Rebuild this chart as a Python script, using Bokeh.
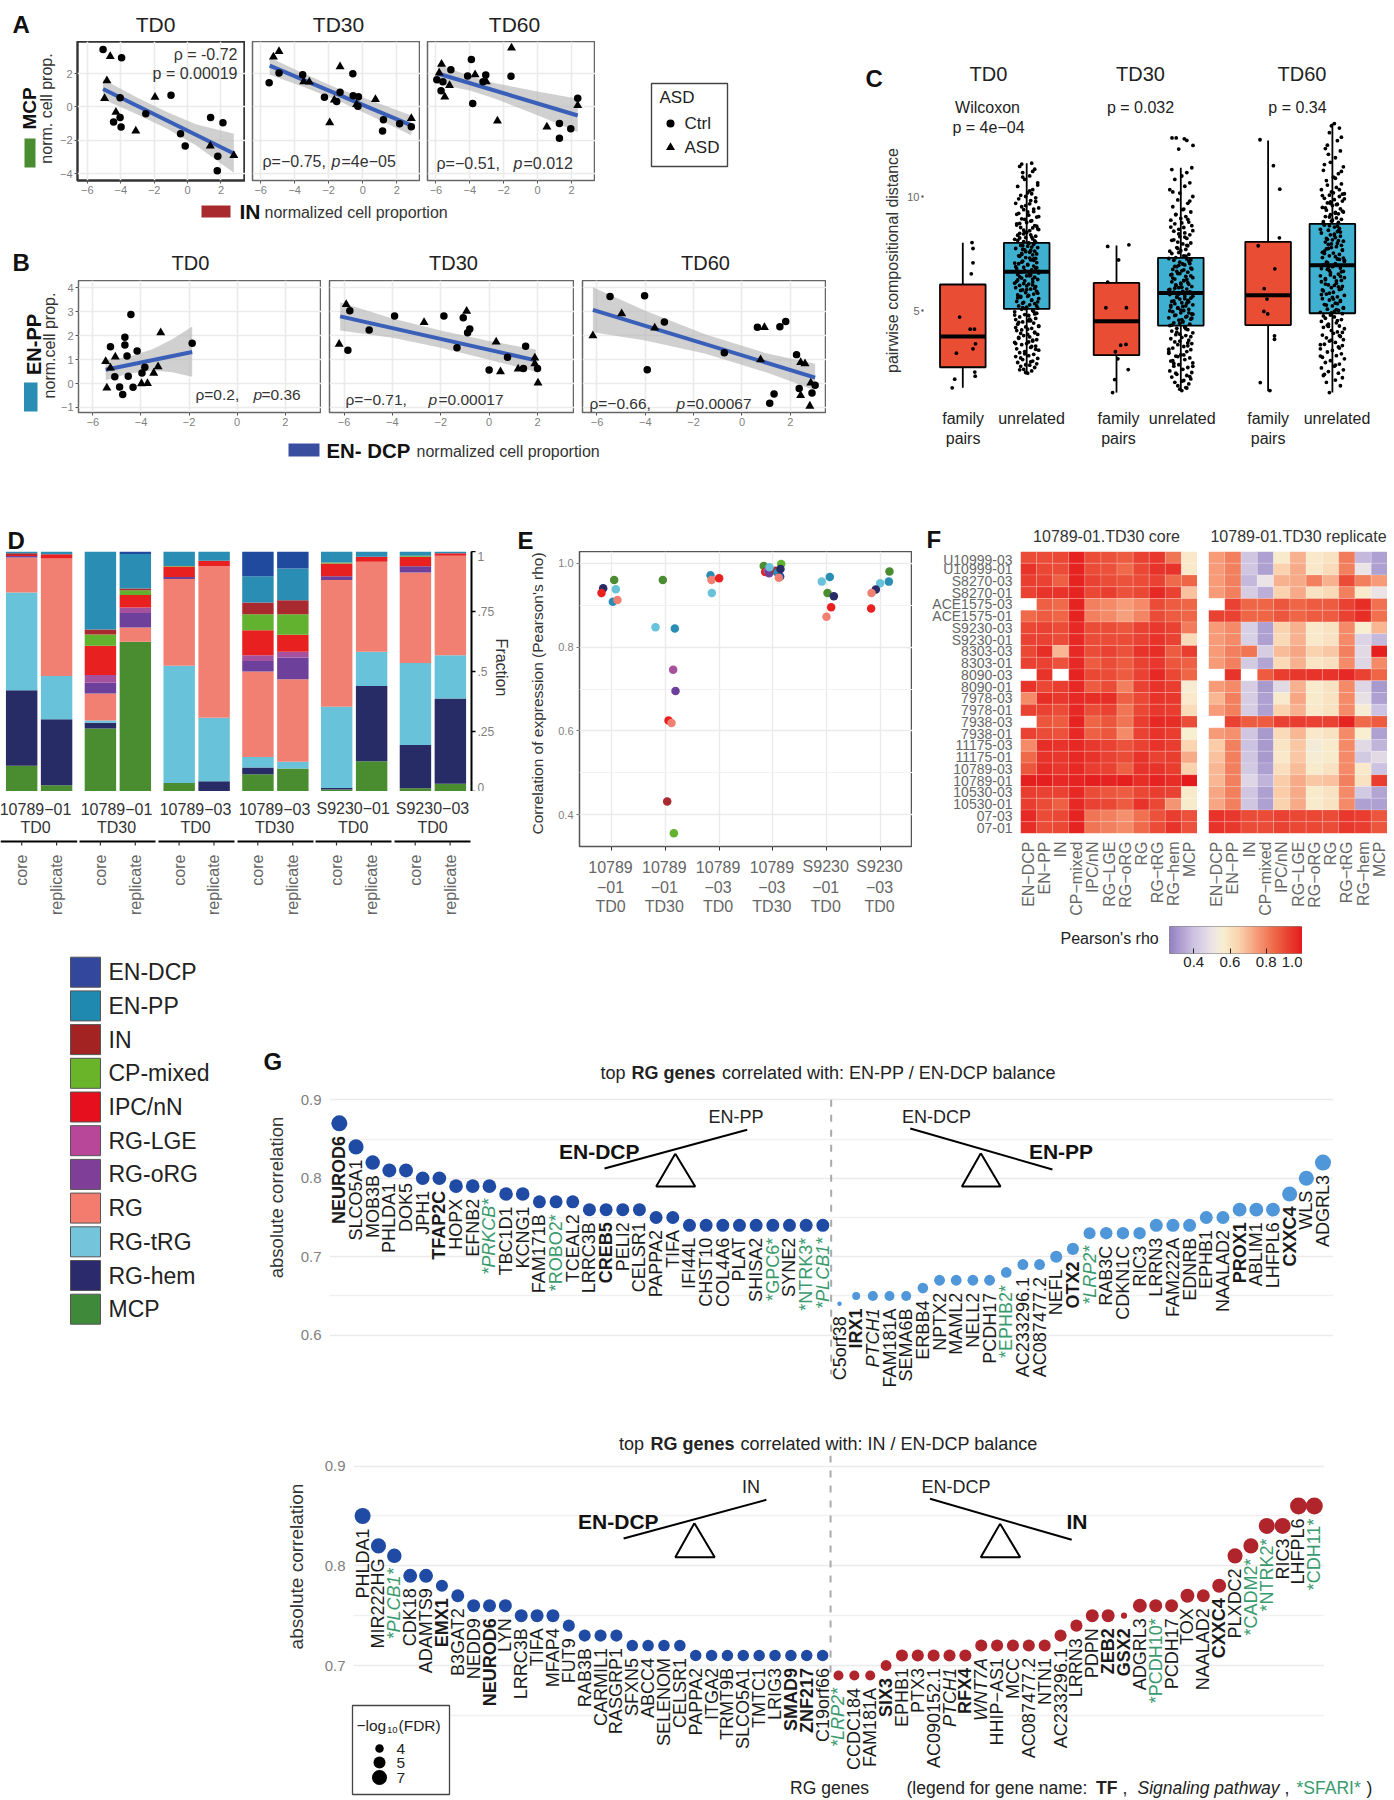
from bokeh.plotting import figure
from bokeh.models import Range1d, FactorRange, FixedTicker, ColumnDataSource, Column, LinearColorMapper
from bokeh.transform import transform
from bokeh.core.properties import value
from bokeh.embed import file_html
from bokeh.resources import INLINE
import numpy as np
import math

FONT = "Liberation Sans"
nan = float("nan")

# ---------- Panel A ----------
A0_CX = [-5.06,-3.95,-4.04,-0.99,-4.43,-4.04,-3.98,-2.5,-0.42,-0.14,1.38,2.12,1.81,1.78]
A0_CY = [3.44,2.94,0.54,0.7,-0.91,-0.64,-1.21,-0.42,-1.61,-2.35,-0.64,-0.95,-2.96,-3.84]
A0_TX = [-4.63,-4.83,-4.97,-4.29,-1.95,-3.1,1.36,2.77]
A0_TY = [3.02,1.57,0.5,-0.32,0.58,-1.45,-2.35,-2.92]
A0_FX = [-5.06,2.77]; A0_FY = [1.07,-2.8]
A0_BX = [-5.06,-3,-1.2,0.5,2.77]; A0_BU = [1.66,0.55,-0.33,-1.05,-1.62]; A0_BL = [0.45,-0.46,-1.33,-2.3,-3.95]

A1_CX = [-5.5,-4.92,-3.53,-2.25,-1.53,-1.33,-0.58,-0.56,-0.25,-0.28,1.22,1.17,2.17,2.86]
A1_CY = [1.45,2.03,1.93,0.58,0.32,0.87,1.99,0.66,0.6,0.04,-0.78,-1.45,-1.01,-1.19]
A1_TX = [-5.25,-4.92,-3.47,-3.14,-1.33,-1.94,-1.67,0.75,-0.36,2.86]
A1_TY = [3.0,3.32,1.51,1.49,2.41,-0.95,0.42,0.44,0.14,-0.7]
A1_FX = [-5.47,2.86]; A1_FY = [2.47,-1.11]
A1_BX = [-5.47,-3.5,-1.5,0.5,2.86]; A1_BU = [2.96,2.02,1.12,0.38,-0.52]; A1_BL = [1.93,1.2,0.4,-0.55,-1.71]

A2_CX = [-5.95,-5.59,-5.7,-5.12,-3.91,-4.13,-3.83,-3.06,-3.22,-1.57,1.29,1.29,1.96,2.37]
A2_CY = [1.63,1.51,0.97,2.23,2.84,1.85,0.2,1.91,1.51,1.83,-1.0,-1.89,-1.31,0.52]
A2_TX = [-5.67,-5.81,-5.2,-5.48,-3.69,-3.03,-2.37,-1.54,0.55,2.37]
A2_TY = [2.56,2.03,1.29,0.6,1.93,1.51,-0.85,3.54,-1.21,0.08]
A2_FX = [-5.9,2.37]; A2_FY = [2.0,-0.52]
A2_BX = [-5.9,-4,-2.5,0,2.37]; A2_BU = [2.56,1.85,1.42,0.92,0.48]; A2_BL = [1.37,0.98,0.48,-0.5,-1.51]

# ---------- Panel B ----------
B0_CX = [-4.42,-4.67,-4.67,-5.27,-4.16,-4.58,-1.87,-3.84,-3.96,-4.53,-5.09,-4.89,-4.33,-4.76]
B0_CY = [2.89,1.94,1.61,1.54,1.36,1.15,1.69,0.68,0.44,0.31,0.28,-0.14,-0.15,-0.46]
B0_TX = [-5.47,-5.07,-5.27,-3.18,-3.29,-3.47,-3.98,-3.73,-5.42]
B0_TY = [0.93,1.11,0.65,2.13,0.71,0.44,0.0,0.01,-0.18]
B0_FX = [-5.47,-1.87]; B0_FY = [0.58,1.32]
B0_BX = [-5.47,-4.5,-3.5,-2.7,-1.87]; B0_BU = [0.97,1.12,1.45,1.85,2.39]; B0_BL = [0.14,0.42,0.55,0.47,0.28]

B1_CX = [-5.76,-5.84,-4.96,-3.91,-1.87,-1.07,-0.89,-0.8,-1.33,0.0,0.76,1.51,2.0,1.42]
B1_CY = [3.04,1.39,2.24,2.83,2.83,2.75,2.13,2.28,1.5,0.57,1.1,1.56,0.63,0.63]
B1_TX = [-5.91,-6.2,-2.69,-0.93,0.29,0.47,1.2,1.89,1.89,2.02]
B1_TY = [3.31,1.65,2.56,3.03,1.74,0.5,0.61,1.07,0.83,0.03]
B1_FX = [-6.16,1.93]; B1_FY = [2.81,0.97]
B1_BX = [-6.16,-4,-2,0,1.93]; B1_BU = [3.4,2.72,2.22,1.78,1.42]; B1_BL = [2.22,1.92,1.5,1.0,0.49]

B2_CX = [-5.46,-4.03,-3.21,-3.92,-0.73,0.64,1.57,1.81,2.26,2.37,1.33,1.15,2.9,3.03]
B2_CY = [3.64,3.67,2.57,0.58,1.29,2.35,2.38,2.6,1.21,-0.21,-0.44,-0.82,-0.39,-0.07]
B2_TX = [-6.17,-4.98,-3.61,0.93,0.77,2.43,2.61,2.43,2.85,2.81]
B2_TY = [2.0,2.92,2.33,2.35,1.0,0.88,0.83,-0.5,0.03,-0.94]
B2_FX = [-6.17,3.03]; B2_FY = [3.08,0.25]
B2_BX = [-6.17,-4,-1.5,1,3.03]; B2_BU = [4.03,3.05,2.05,1.27,0.83]; B2_BL = [2.15,1.8,1.25,0.47,-0.28]

# ---------- Panel C ----------
C_Q1 = [2.51,5.07,3.04,4.34,4.36,4.88]
C_MED = [3.86,6.7,4.53,5.77,5.67,6.99]
C_Q3 = [6.14,7.97,6.21,7.31,8.01,8.8]
C_LO = [1.61,2.25,1.4,1.49,1.46,1.4]
C_HI = [7.97,11.46,7.85,11.26,12.46,13.2]
F0_O = [9.2,10.2,10.2,8.5,-3.2,7.4,11.7,12.7,10.2,-6.4,12,12.4,-8.1,-10.6]
F0_V = [7.98,7.72,7.09,6.61,4.71,4.18,4.18,3.54,3.32,3.13,2.3,2.12,1.99,1.61]
F1_O = [-8.8,12.4,2.1,-8.8,-10.6,9.9,4.2,9.5,-1.1,1.4,11.7,-1.8,-3.9]
F1_V = [7.81,7.88,7.22,6.24,5.12,5.12,3.48,3.51,3.19,2.88,2.41,1.97,1.4]
F2_O = [-8.1,5.3,11.7,11.3,-9.9,6.7,-3.9,-1.1,-4.2,-0.4,6.4,6.4,-7.8,1.8]
F2_V = [12.49,11.35,10.32,8.19,7.84,6.83,5.96,5.5,4.96,4.85,3.89,3.74,1.84,1.49]
U_JIT = [1,-1,5,-3,8,-6,3,10,-9,6,-4,11,-11,2,7,-7,-2,12,-10,4,9,-5,0,-12,6,10,-8,3,-3,11,-6,8,-10,1,5,-1,12,-9,7,-4,
 4,-11,9,-7,2,-2,10,-12,6,-5,11,0,-8,3,8,-3,-10,5,12,-6,1,-9,7,-1,10,-4,4,-11,9,-7,2,-12,6,-2,11,-5,8,0,-9,3,
 -6,12,5,-10,-3,7,1,-8,10,-4,4,9,-1,-7,6,-5,3,8,-2,-11,5,-4,7,2,-3,-9,6,-1,9,4,-7,-2,3,11,-6,8,-10,0,5,-5,
 10,2,-8,7,-3,12,-1,-11,4,9,-6,1,6,-9,11,-2,3,-4,8,-7,-5,5,9,-3,7,-1,2,10,3,6]
U_JIT2 = [-7,4,-2,9,-11,6,1,-5,12,-8,3,-12,7,-1,10,-4,5,-9,2,11,-6,8,0,-3,-10,6,-7,4,12,-2,9,-11,1,-5,7,3,-8,10,-1,-4,
 11,-6,2,8,-12,5,-9,0,-3,6,10,-7,4,-2,12,-10,1,7,-5,3,9,-8,-1,5,-11,2,8,-4,11,-6,0,6,-9,3,-2,10,-12,7,-5,4,
 1,9,-7,-3,12,-10,5,2,-8,8,-1,-6,3,11,-4,6,-11,0,9,-2,7,-9,4,-5,10,-3,1,-12,8,5,-7,2,-1,6,-10,3,11,-8,9,-4]
U0_V = [2.25,2.28,2.35,2.42,2.5,2.55,2.6,2.66,2.72,2.78,2.85,2.9,2.98,3.02,3.08,3.15,3.2,3.26,3.32,3.38,3.44,3.5,3.55,3.6,3.66,3.72,3.78,3.84,3.9,3.95,4.0,4.05,4.12,4.18,4.22,4.28,4.33,4.4,4.45,4.5,
 4.55,4.6,4.65,4.72,4.78,4.82,4.88,4.94,5.0,5.05,5.1,5.15,5.2,5.25,5.3,5.36,5.4,5.46,5.52,5.58,5.62,5.68,5.72,5.78,5.84,5.9,5.94,6.0,6.05,6.1,6.16,6.2,6.25,6.3,6.36,6.42,6.46,6.52,6.58,6.62,
 6.68,6.72,6.78,6.84,6.9,6.95,7.0,7.05,7.1,7.16,7.22,7.28,7.32,7.38,7.44,7.5,7.55,7.6,7.66,7.72,7.78,7.84,7.9,7.96,8.02,8.08,8.14,8.2,8.26,8.32,8.38,8.44,8.5,8.58,8.64,8.72,8.8,8.86,8.94,9.02,
 9.1,9.18,9.26,9.34,9.42,9.5,9.6,9.7,9.82,9.94,10.05,10.16,10.3,10.44,10.6,10.75,10.9,11.05,11.2,11.32,11.42,11.46]
U0_W = [2.4,2.75,3.1,3.3,3.55,3.7,3.95,4.15,4.3,4.48,4.62,4.8,4.96,5.08,5.2,5.32,5.44,5.55,5.66,5.76,5.88,5.97,6.08,6.18,6.28,6.38,6.48,6.56,6.65,6.75,6.85,6.92,7.02,7.12,7.2,7.3,7.4,7.48,7.58,7.68,
 7.76,7.86,7.95,8.05,8.12,8.22,8.3,8.42,8.52,8.62,8.7,8.82,8.92,9.0,9.12,9.22,9.32,9.45,9.55,9.68,9.78,9.9,10.0,10.12,4.25,4.55,4.85,5.12,5.38,5.62,5.92,6.12,6.34,6.52,6.72,6.88,7.08,7.26,7.46,7.64,7.82,8.0,8.18,8.36,8.55,8.75,3.42,3.62,3.82,4.02,2.62,2.92,10.25,10.5,10.85,11.1]
U1_V = [1.49,1.55,1.62,1.7,1.78,1.85,1.93,2.0,2.08,2.15,2.2,2.28,2.35,2.42,2.5,2.56,2.62,2.7,2.78,2.85,2.92,3.0,3.06,3.12,3.2,3.28,3.35,3.42,3.5,3.55,3.62,3.7,3.76,3.82,3.9,3.96,4.02,4.1,4.16,4.22,
 4.28,4.34,4.4,4.46,4.52,4.58,4.62,4.68,4.74,4.8,4.85,4.9,4.95,5.0,5.05,5.1,5.15,5.2,5.25,5.3,5.34,5.4,5.44,5.5,5.54,5.6,5.64,5.7,5.75,5.8,5.84,5.9,5.94,6.0,6.05,6.1,6.15,6.2,6.26,6.32,
 6.38,6.44,6.5,6.56,6.62,6.68,6.74,6.8,6.86,6.92,7.0,7.06,7.12,7.2,7.26,7.32,7.4,7.46,7.54,7.6,7.68,7.76,7.84,7.92,8.0,8.08,8.16,8.24,8.32,8.4,8.48,8.56,8.64,8.72,8.8,8.88,8.96,9.04,9.12,9.22,
 9.32,9.42,9.55,9.7,9.85,10.0,10.15,10.3,10.45,10.6,10.75,10.9,11.05,11.18,11.26,12.57,12.57,12.53,12.46,12.08,12.24]
U1_EXTRA_O = [-8.8,-4.6,3.5,6,-2.1,12.2]
U1_W = [1.6,1.9,2.25,2.55,2.8,3.05,3.3,3.45,3.66,3.85,4.05,4.2,4.36,4.5,4.66,4.78,4.9,5.02,5.12,5.22,5.32,5.42,5.52,5.62,5.72,5.82,5.92,6.02,6.12,6.22,6.3,6.42,6.52,6.62,6.72,6.82,6.94,7.04,7.16,7.28,
 7.38,7.5,7.62,7.72,7.86,7.96,8.1,8.22,8.36,8.5,8.66,8.84,9.0,9.2,9.45,9.8,10.2,4.44,4.72,4.98,5.18,5.38,5.58,5.78,5.98,6.16,6.36,6.58,6.78,6.98,7.22,3.18,3.58,3.94,4.28,4.6,2.1,2.68,2.98,4.84]
U2_V = [1.4,1.7,1.85,1.95,2.05,2.15,2.25,2.32,2.4,2.48,2.56,2.65,2.72,2.8,2.88,2.95,3.02,3.1,3.18,3.25,3.32,3.4,3.46,3.52,3.6,3.66,3.72,3.8,3.86,3.92,4.0,4.06,4.12,4.2,4.26,4.32,4.4,4.46,4.52,4.6,
 4.66,4.72,4.8,4.86,4.92,5.0,5.06,5.12,5.2,5.26,5.32,5.4,5.46,5.52,5.6,5.66,5.72,5.8,5.86,5.92,6.0,6.06,6.12,6.2,6.26,6.32,6.4,6.46,6.52,6.6,6.66,6.72,6.8,6.86,6.92,7.0,7.06,7.12,7.2,7.26,
 7.32,7.4,7.46,7.52,7.6,7.66,7.72,7.8,7.86,7.92,8.0,8.06,8.12,8.2,8.26,8.32,8.4,8.46,8.52,8.6,8.66,8.72,8.8,8.86,8.92,9.0,9.06,9.12,9.2,9.26,9.32,9.4,9.46,9.52,9.6,9.66,9.72,9.8,9.86,9.92,
 10.0,10.06,10.12,10.2,10.3,10.4,10.55,10.7,10.85,11.0,11.15,11.3,11.5,11.7,11.85,12.0,12.1,12.25,12.45,12.6,12.8,13.0,13.1,13.2]
U2_W = [2.2,2.6,3.0,3.35,3.7,4.04,4.3,4.56,4.76,4.96,5.1,5.24,5.44,5.58,5.76,5.9,6.04,6.16,6.3,6.44,6.56,6.7,6.84,6.96,7.1,7.24,7.36,7.5,7.64,7.76,7.9,8.04,8.16,8.3,8.44,8.56,8.7,8.84,8.96,9.1,
 9.24,9.36,9.5,9.64,9.76,9.9,10.04,10.16,10.3,10.5,10.8,11.1,11.4,4.9,5.3,5.7,6.1,6.5,6.9,7.3,7.7,8.1,8.5,8.9,9.3,9.7,10.1,3.5,3.9,4.35,5.04,5.5,5.95,6.35,6.75,7.15,7.55,7.95,8.35,8.75]

# ---------- Panel D ----------
CELLTYPES_BOTTOM_UP = ["MCP","RG-hem","RG-tRG","RG","RG-oRG","RG-LGE","IPC/nN","CP-mixed","IN","EN-PP","EN-DCP"]
D_MCP = [.107,.026,.2625,.624,.035,0,.072,.096,.008,.126,.014,.032]
D_HEM = [.315,.275,.0235,0,0,.043,.028,0,.007,.314,.18,.3555]
D_TRG = [.407,.18,.01,0,.489,.264,.044,.028,.338,.142,.341,.1805]
D_RG = [.146,.49,.112,.059,.361,.632,.356,.344,.528,.375,.3775,.414]
D_ORG = [.006,0,.045,.061,.009,0,.044,.09,.016,0,.0265,0]
D_LGE = [0,0,.032,.023,0,0,.024,.024,0,0,0,0]
D_IPC = [.004,.018,.122,.052,.0435,.022,.104,.071,.053,.021,.039,.011]
D_CP = [0,0,.047,.02,.002,0,.067,.086,.004,0,.004,0]
D_IN = [.008,0,.021,.007,0,0,.0485,.058,0,0,0,0]
D_PP = [.007,.011,.325,.144,.0605,.039,.1095,.132,.046,.022,.018,.007]
D_DCP = [0,0,0,.01,0,0,.103,.071,0,0,0,0]
D_GROUP1 = ["10789−01","10789−01","10789−03","10789−03","S9230−01","S9230−03"]
D_GROUP2 = ["TD0","TD30","TD0","TD30","TD0","TD0"]
COLORS = {"EN-DCP":"#1f4a9e","EN-PP":"#2a8db3","IN":"#a82a2e","CP-mixed":"#62b22f","IPC/nN":"#e92020",
          "RG-LGE":"#a6519e","RG-oRG":"#6d409c","RG":"#f18073","RG-tRG":"#68c3da","RG-hem":"#272b66","MCP":"#4a8c30"}
LEGEND_COLORS = {"EN-DCP":"#33489c","EN-PP":"#2089b0","IN":"#a32222","CP-mixed":"#6ab42a","IPC/nN":"#e60f1e",
          "RG-LGE":"#b8479a","RG-oRG":"#7f3f98","RG":"#f47c6e","RG-tRG":"#74c5dc","RG-hem":"#2a2a6c","MCP":"#3f8a3a"}

# ---------- Panel E ----------
E_CT = ["MCP","RG-hem","IPC/nN","RG-tRG","EN-PP","RG",
        "MCP","RG-tRG","EN-PP","RG-LGE","RG-oRG","IPC/nN","RG","IN","CP-mixed",
        "EN-PP","RG","IPC/nN","RG-tRG",
        "MCP","CP-mixed","IPC/nN","RG-LGE","RG-oRG","IN","EN-PP","EN-DCP","RG-hem","RG","RG-tRG",
        "RG-tRG","EN-PP","MCP","RG-hem","IPC/nN","RG",
        "MCP","EN-PP","RG-tRG","RG-hem","RG","IPC/nN"]
E_X = [1.05,.845,.814,1.08,1.025,1.11, 1.954,1.818,2.177,2.146,2.19,2.06,2.115,2.035,2.159, 2.84,2.859,3.0,2.865,
       3.83,4.154,3.857,3.9,3.93,4.05,4.085,4.135,4.141,4.11,3.937, 4.909,5.058,5.015,5.133,5.083,4.996, 6.167,6.155,5.994,5.913,5.833,5.826]
E_Y = [.96,.94,.929,.938,.908,.912, .96,.847,.844,.746,.695,.625,.619,.432,.356, .971,.96,.964,.929,
       .993,.998,.979,.982,.976,.982,.977,.968,.986,.965,.99, .956,.967,.929,.921,.895,.872, .98,.956,.952,.937,.929,.892]
E_GROUP = [["10789","−01","TD0"],["10789","−01","TD30"],["10789","−03","TD0"],["10789","−03","TD30"],["S9230","−01","TD0"],["S9230","−03","TD0"]]

# ---------- Panel F ----------
F_ROWS = ["U10999-03","U10999-01","S8270-03","S8270-01","ACE1575-03","ACE1575-01","S9230-03","S9230-01","8303-03","8303-01","8090-03","8090-01",
          "7978-03","7978-01","7938-03","7938-01","11175-03","11175-01","10789-03","10789-01","10530-03","10530-01","07-03","07-01"]
F_COLS = ["EN−DCP","EN−PP","IN","CP−mixed","IPC/nN","RG−LGE","RG−oRG","RG","RG−tRG","RG−hem","MCP"]
F_CORE = [
 [.90,.90,.91,.98,.90,.89,.87,.92,.94,.82,.58],[.95,.91,.90,.98,.90,.89,.84,.91,.95,.95,.58],[.93,.92,.86,.98,.92,.90,.89,.90,.92,.84,.85],
 [.92,.95,.95,.98,.91,.93,.89,.91,.97,.92,.68],[nan,.86,.84,.98,.80,.78,.75,.78,.90,.87,.85],[.84,.87,.85,.98,.80,.78,.74,.79,.90,.87,.85],
 [.91,.92,.90,.97,.90,.90,.88,.92,.94,.92,.81],[.92,.92,.90,.97,.90,.90,.90,.92,.95,.92,.62],[.91,.96,.70,.97,.90,.92,.89,.95,.96,.87,.93],
 [.92,.92,.89,.97,.87,.90,.87,.92,.94,.88,.86],[nan,.95,nan,.98,.91,.90,.87,.92,.97,.91,.85],[.95,.91,.93,.97,.87,.90,.80,.92,.95,.93,.55],
 [.78,.96,.94,.97,.96,.96,.86,.91,.95,.94,.58],[.92,.92,.90,.97,.90,.92,.82,.91,.94,.93,.62],[nan,.88,.87,.98,.85,.88,.82,.93,.97,.96,.90],
 [.92,.90,.89,.97,.86,.88,.78,.92,.95,.93,.56],[.78,.96,.95,.97,.94,.92,.89,.92,.95,.93,.64],[.84,.95,.94,.97,.95,.92,.90,.95,.92,.93,.72],
 [.88,.96,.94,.97,.93,.92,.86,.95,.95,.93,.65],[.99,.99,.97,.98,.99,.98,.99,.96,.98,.96,1.0],[.93,.92,.92,.97,.90,.88,.87,.91,.93,.92,.57],
 [.93,.90,.86,.97,.92,.91,.87,.95,.91,.76,.57],[.97,.90,.91,.98,.82,.80,.77,.83,.89,.93,.89],[.96,.90,.91,.98,.82,.80,.78,.84,.90,.95,.89]]
F_REPL = [
 [.75,.80,.41,.33,.57,.71,.58,.60,.81,.38,.33],[.75,.80,.41,.33,.65,.72,.58,.62,.80,.50,.33],[.75,.80,.38,.50,.71,.72,.80,.71,.90,.80,.75],
 [.75,.80,.43,.36,.65,.72,.60,.63,.80,.57,.50],[nan,.92,.85,.85,.88,.85,.87,.87,.92,.96,.83],[.92,.92,.85,.85,.88,.85,.87,.87,.92,.96,.83],
 [.75,.78,.44,.33,.65,.71,.58,.60,.78,.56,.70],[.75,.78,.44,.33,.63,.71,.58,.60,.78,.45,.38],[.75,.80,.82,.43,.69,.73,.65,.67,.80,.47,.99],
 [.75,.80,.42,.34,.63,.71,.59,.61,.78,.46,.78],[nan,.95,nan,.87,.93,.94,.95,.95,.97,.92,.85],[.75,.78,.43,.32,.47,.71,.57,.60,.78,.46,.32],
 [.70,.80,.43,.33,.57,.73,.57,.60,.78,.49,.33],[.75,.80,.43,.33,.65,.71,.58,.60,.78,.55,.40],[nan,.92,.87,.87,.92,.93,.92,.92,.98,.84,.87],
 [.75,.77,.41,.32,.62,.70,.58,.60,.78,.56,.33],[.66,.80,.40,.32,.59,.67,.54,.57,.78,.47,.37],[.68,.80,.41,.32,.58,.67,.55,.57,.78,.42,.47],
 [.70,.80,.42,.33,.61,.69,.57,.60,.78,.58,.40],[.70,.80,.46,.37,.66,.72,.67,.68,.80,.60,.93],[.73,.80,.41,.33,.66,.72,.57,.60,.78,.42,.34],
 [.73,.80,.41,.33,.65,.72,.57,.60,.78,.33,.33],[.95,.94,.90,.90,.92,.91,.91,.90,.94,.93,.88],[.95,.94,.90,.90,.92,.91,.91,.90,.94,.93,.88]]

# ---------- Panel G ----------
G1_L = ["NEUROD6","SLCO5A1","MOB3B","PHLDA1","DOK5","JPH1","TFAP2C","HOPX","EFNB2","*PRKCB*","TBC1D1","KCNG1","FAM171B","*ROBO2*","TCEAL2","LRRC3B","CREB5","PELI2","CELSR1","PAPPA2","TIFA","IFI44L","CHST10","COL4A6","PLAT","SHISA2","*GPC6*","SYNE2","*NTRK3*","*PLCB1*"]
G1_LV = [.87,.84,.82,.81,.81,.80,.80,.79,.79,.79,.78,.78,.77,.77,.77,.76,.76,.76,.76,.75,.75,.74,.74,.74,.74,.74,.74,.74,.74,.74]
G1_LF = [7,6.7,6.5,6.3,6.3,6.2,6.2,6.2,6.2,6.2,6.2,6.2,6,6,6,6,6,6,6,6,6,6,6,6,6,6,6,6,6,6]
G1_R = ["C5orf38","IRX1","PTCH1","FAM181A","SEMA6B","ERBB4","NPTX2","MAML2","NELL2","PCDH17","*EPHB2*","AC233296.1","AC087477.2","NEFL","OTX2","*LRP2*","RAB3C","CDKN1C","RIC3","LRRN3","FAM222A","EDNRB","EPHB1","NAALAD2","PROX1","ABLIM1","LHFPL6","CXXC4","WLS","ADGRL3"]
G1_RV = [.64,.65,.65,.65,.65,.66,.67,.67,.67,.67,.68,.69,.69,.70,.71,.73,.73,.73,.73,.74,.74,.74,.75,.75,.76,.76,.76,.78,.80,.82]
G1_RF = [3.2,4.3,5,5,5,5.2,5.3,5.3,5.3,5.3,5.2,5.3,5.3,5.7,5.7,5.7,5.8,5.8,5.8,6,6,6,6,6,6.3,6.3,6.3,6.7,6.7,7]
G2_L = ["PHLDA1","MIR222HG","*PLCB1*","CDK18","ADAMTS9","EMX1","B3GAT2","NEDD9","NEUROD6","LYN","LRRC3B","TIFA","MFAP4","FUT9","RAB3B","CARMIL1","RASGRP1","SFXN5","ABCC4","SELENOM","CELSR1","PAPPA2","ITGA2","TRMT9B","SLCO5A1","TMTC1","LRIG3","SMAD9","ZNF217","C19orf66"]
G2_LV = [.85,.82,.81,.79,.79,.78,.77,.76,.76,.76,.75,.75,.75,.74,.73,.73,.73,.72,.72,.72,.72,.71,.71,.71,.71,.71,.71,.71,.71,.71]
G2_LF = [7,6.7,6.5,6.3,6.3,5.7,6,6,6,6,6,6,6,5.7,5.7,5.7,5.7,5.5,5.5,5.5,5.5,5.5,5.5,5.5,5.5,5.5,5.5,5.5,5.5,5.5]
G2_R = ["*LRP2*","CCDC184","FAM181A","SIX3","EPHB1","PTX3","AC090152.1","PTCH1","RFX4","WNT7A","HHIP−AS1","MCC","AC087477.2","NTN1","AC233296.1","LRRN3","PDPN","ZEB2","GSX2","ADGRL3","*PCDH10*","PCDH17","TOX","NAALAD2","CXXC4","PLXDC2","*CADM2*","*NTRK2*","RIC3","LHFPL6","*CDH11*"]
G2_RV = [.69,.69,.69,.70,.71,.71,.71,.71,.71,.72,.72,.72,.72,.72,.73,.74,.75,.75,.75,.76,.76,.76,.77,.77,.78,.81,.82,.84,.84,.86,.86]
G2_RF = [5,5,5,5.3,5.7,5.7,5.7,5.7,5.7,5.7,5.7,5.7,5.7,5.7,5.7,5.7,6,6,3.7,6.3,6,6,6.3,6,6.3,6.7,6.7,7,7,7.3,7.3]
TF_GENES = {"NEUROD6","TFAP2C","CREB5","IRX1","OTX2","PROX1","CXXC4","EMX1","SMAD9","ZNF217","SIX3","RFX4","ZEB2","GSX2"}
ITALIC_GENES = {"*PRKCB*","*PLCB1*","*LRP2*","PTCH1","WNT7A"}
FDR_LEGEND = [4,5,7]
LEGEND_CT = ["EN-DCP","EN-PP","IN","CP-mixed","IPC/nN","RG-LGE","RG-oRG","RG","RG-tRG","RG-hem","MCP"]

# ---------- helpers ----------
children = []
GRAY = "#7f7f7f"
DARK = "#222222"

def make_fig(L, T, R, B, xr, yr, ml=0, mr=0, mt=0, mb=0, **kw):
    L, T, R, B = round(L), round(T), round(R), round(B)
    p = figure(width=R-L+ml+mr, height=B-T+mt+mb, x_range=xr, y_range=yr, toolbar_location=None,
               output_backend="svg", min_border_left=ml, min_border_right=mr, min_border_top=mt, min_border_bottom=mb,
               background_fill_color=None, border_fill_color=None, outline_line_color=None, **kw)
    p.frame_align = False
    p.styles = {"position": "absolute", "left": f"{L-ml}px", "top": f"{T-mt}px"}
    children.append(p)
    return p

def style_axis(a, size=11, color=GRAY, tick="#555555", tl=3):
    a.major_label_text_font = FONT
    a.major_label_text_font_size = f"{size}px"
    a.major_label_text_color = color
    a.axis_line_color = None
    a.major_tick_line_color = tick
    a.major_tick_out = tl
    a.major_tick_in = 0
    a.minor_tick_line_color = None
    a.major_label_standoff = 2

def minus(v):
    return str(v).replace("-", "−")

def scatter_panel(box_, xlim, ylim, yticks, cx, cy, tx, ty, fx, fy, bx, bl, bu, show_y, oc, ow):
    L, T, R, B = box_
    p = make_fig(L, T, R, B, Range1d(*xlim), Range1d(*ylim), ml=26, mb=22)
    p.background_fill_color = "white"
    xt = [-6,-4,-2,0,2]
    p.xaxis.ticker = FixedTicker(ticks=xt)
    p.xaxis.major_label_overrides = {v: minus(v) for v in xt}
    p.yaxis.ticker = FixedTicker(ticks=yticks)
    p.yaxis.major_label_overrides = {v: minus(v) for v in yticks}
    style_axis(p.xaxis[0]); style_axis(p.yaxis[0])
    p.yaxis.visible = show_y
    p.xgrid.ticker = FixedTicker(ticks=xt); p.ygrid.ticker = FixedTicker(ticks=yticks)
    p.xgrid.grid_line_color = "#ebebeb"; p.ygrid.grid_line_color = "#ebebeb"
    p.xgrid.grid_line_width = 1.6; p.ygrid.grid_line_width = 1.6
    p.outline_line_color = oc; p.outline_line_width = ow
    p.varea(x=bx, y1=bl, y2=bu, fill_color="#b0b0b0", fill_alpha=0.6)
    p.line(x=fx, y=fy, line_color="#3a5fb8", line_width=4)
    p.scatter(x=cx, y=cy, marker="circle", size=7.5, fill_color="black", line_color=None)
    p.scatter(x=tx, y=ty, marker="triangle", size=9, fill_color="black", line_color=None)
    return p

A_YT = [-4,-2,0,2]; A_YL = (-4.42, 3.92)
scatter_panel((77,41,245,180), (-6.59,3.47), A_YL, A_YT, A0_CX,A0_CY,A0_TX,A0_TY,A0_FX,A0_FY,A0_BX,A0_BL,A0_BU, True, "#333333", 2.4)
scatter_panel((252,41,420,180), (-6.48,3.4), A_YL, A_YT, A1_CX,A1_CY,A1_TX,A1_TY,A1_FX,A1_FY,A1_BX,A1_BL,A1_BU, False, "#666666", 1.5)
scatter_panel((427,41,595,180), (-6.5,3.42), A_YL, A_YT, A2_CX,A2_CY,A2_TX,A2_TY,A2_FX,A2_FY,A2_BX,A2_BL,A2_BU, False, "#666666", 1.5)
B_YT = [-1,0,1,2,3,4]; B_YL = (-1.21, 4.31)
scatter_panel((78,280,321,412), (-6.6,3.51), B_YL, B_YT, B0_CX,B0_CY,B0_TX,B0_TY,B0_FX,B0_FY,B0_BX,B0_BL,B0_BU, True, "#666666", 1.5)
scatter_panel((329,280,574,412), (-6.6,3.53), B_YL, B_YT, B1_CX,B1_CY,B1_TX,B1_TY,B1_FX,B1_FY,B1_BX,B1_BL,B1_BU, False, "#666666", 1.5)
scatter_panel((582,280,826,412), (-6.6,3.5), B_YL, B_YT, B2_CX,B2_CY,B2_TX,B2_TY,B2_FX,B2_FY,B2_BX,B2_BL,B2_BU, False, "#666666", 1.5)

# ---------- C ----------
c_yval = lambda Y: 5 + (310 - Y) / 22.8
pc = make_fig(923, 115, 1380, 400, Range1d(923,1380), Range1d(c_yval(400), c_yval(115)), ml=30, x_axis_location=None)
style_axis(pc.yaxis[0], size=11, color="#666666", tick="#444444", tl=2)
pc.yaxis.ticker = FixedTicker(ticks=[5,10])
pc.yaxis.major_tick_line_width = 2
pc.xgrid.visible = False; pc.ygrid.visible = False
C_CENTER = [962.3,1026.2,1116,1180.3,1267.6,1331.9]
C_FILL = ["#e94e35","#3fb0d0"]*3
HW = 22.8
pc.segment(x0=C_CENTER, x1=C_CENTER, y0=C_LO, y1=C_HI, line_color="black", line_width=1.8)
pc.quad(left=[c-HW for c in C_CENTER], right=[c+HW for c in C_CENTER], bottom=C_Q1, top=C_Q3, fill_color=C_FILL, line_color="black", line_width=1.8)
pc.segment(x0=[c-HW for c in C_CENTER], x1=[c+HW for c in C_CENTER], y0=C_MED, y1=C_MED, line_color="black", line_width=4)
def cdots(center, offs, vals):
    n = min(len(offs), len(vals))
    pc.scatter(x=[center+o for o in offs[:n]], y=vals[:n], marker="circle", size=3.8, fill_color="black", line_color=None)
cdots(C_CENTER[0], F0_O, F0_V); cdots(C_CENTER[2], F1_O, F1_V); cdots(C_CENTER[4], F2_O, F2_V)
cdots(C_CENTER[1], U_JIT, U0_V); cdots(C_CENTER[1], U_JIT2, U0_W)
cdots(C_CENTER[3], U_JIT[:len(U1_V)-6]+U1_EXTRA_O, U1_V); cdots(C_CENTER[3], U_JIT2[5:], U1_W)
cdots(C_CENTER[5], U_JIT[3:]+U_JIT[:3], U2_V); cdots(C_CENTER[5], U_JIT2[9:], U2_W)

# ---------- D ----------
d_x = [g*2.255+s for g in range(6) for s in (0,1)]
d_src = ColumnDataSource(dict(x=d_x, **dict(zip(CELLTYPES_BOTTOM_UP,[D_MCP,D_HEM,D_TRG,D_RG,D_ORG,D_LGE,D_IPC,D_CP,D_IN,D_PP,D_DCP]))))
pd_ = make_fig(3, 551, 471, 791, Range1d(-0.52,12.88), Range1d(0,1), mr=36, x_axis_location=None, y_axis_location="right")
pd_.vbar_stack(CELLTYPES_BOTTOM_UP, x="x", width=0.9, color=[COLORS[c] for c in CELLTYPES_BOTTOM_UP], source=d_src, line_color=None)
pd_.xgrid.visible=False; pd_.ygrid.visible=False
ya = pd_.yaxis[0]
style_axis(ya, size=12, color=GRAY, tick="black", tl=4)
ya.ticker = FixedTicker(ticks=[0,.25,.5,.75,1])
ya.major_label_overrides = {0:"0",.25:".25",.5:".5",.75:".75",1:"1"}
ya.axis_line_color="black"; ya.axis_line_width=2; ya.major_tick_line_width=1.5

# ---------- E ----------
pe = make_fig(579, 551, 912, 846, Range1d(.405,6.595), Range1d(.3246,1.0278), ml=36, mb=12)
pe.background_fill_color = "white"
pe.outline_line_color="#555555"; pe.outline_line_width=1.5
style_axis(pe.xaxis[0], size=1, tick="#333333", tl=4); style_axis(pe.yaxis[0], size=11, tick="#777777", tl=3)
pe.xaxis.ticker = FixedTicker(ticks=[1,2,3,4,5,6])
pe.xaxis.major_label_overrides = {i:"" for i in range(1,7)}
pe.yaxis.ticker = FixedTicker(ticks=[.4,.6,.8,1.0], minor_ticks=[.5,.7,.9])
pe.yaxis.major_label_overrides = {.4:"0.4",.6:"0.6",.8:"0.8",1.0:"1.0"}
pe.ygrid.ticker = FixedTicker(ticks=[.4,.6,.8,1.0], minor_ticks=[.5,.7,.9])
pe.xgrid.ticker = FixedTicker(ticks=[1,2,3,4,5,6])
pe.xgrid.grid_line_color="#ebebeb"; pe.ygrid.grid_line_color="#ebebeb"
pe.xgrid.grid_line_width=1.4; pe.ygrid.grid_line_width=1.4
pe.ygrid.minor_grid_line_color="#f2f2f2"; pe.ygrid.minor_grid_line_width=1
pe.scatter(x=E_X, y=E_Y, marker="circle", size=8.5, fill_color=[COLORS[c] for c in E_CT], line_color=None)

# ---------- F ----------
stops_v = [.266,.40,.50,.56,.65,.75,.85,1.0]
stops_c = [(0x93,0x80,0xc2),(0xcd,0xc3,0xe2),(0xea,0xe4,0xe6),(0xf8,0xee,0xd0),(0xfb,0xd2,0xae),(0xf6,0x9a,0x78),(0xee,0x66,0x46),(0xe4,0x1a,0x1c)]
grid_v = np.linspace(.266,1.0,256)
palette = ["#%02x%02x%02x" % tuple(int(round(np.interp(v, stops_v, [c[i] for c in stops_c]))) for i in range(3)) for v in grid_v]
mapper = LinearColorMapper(palette=palette, low=.266, high=1.0, nan_color="white")

def heat(L, R, matrix, ml, show_rows):
    p = make_fig(L, 551, R, 833, FactorRange(factors=F_COLS), FactorRange(factors=F_ROWS[::-1]), ml=ml, mb=90)
    rows, cols, vals = [], [], []
    for r, line in zip(F_ROWS, matrix):
        for c, v in zip(F_COLS, line):
            rows.append(r); cols.append(c); vals.append(v)
    p.rect(x="c", y="r", width=1, height=1, source=ColumnDataSource(dict(c=cols, r=rows, v=np.array(vals, dtype=float))),
           fill_color=transform("v", mapper), line_color="white", line_alpha=0.25, line_width=0.7)
    p.xgrid.visible=False; p.ygrid.visible=False
    style_axis(p.xaxis[0], size=16, color="#666666"); style_axis(p.yaxis[0], size=14, color="#666666")
    p.xaxis.major_tick_line_color=None; p.yaxis.major_tick_line_color=None
    p.xaxis.major_label_orientation = math.pi/2
    p.xaxis.major_label_standoff = 5
    p.yaxis.major_label_standoff = 5
    p.yaxis.visible = show_rows
    return p
heat(1019, 1197, F_CORE, 90, True)
heat(1208, 1387, F_REPL, 4, False)

cb_edges = np.linspace(.266,1.0,134)
pcb = make_fig(1169, 926, 1302, 953, Range1d(.266,1.0), Range1d(0,1), mb=22, y_axis_location=None)
cb_src = ColumnDataSource(dict(l=cb_edges[:-1], r=cb_edges[1:]+.003, m=(cb_edges[:-1]+cb_edges[1:])/2, b=[0]*133, t=[1]*133))
pcb.quad(left="l", right="r", bottom="b", top="t", source=cb_src, fill_color=transform("m", mapper), line_color=None)
pcb.outline_line_color="#888888"; pcb.outline_line_width=1
pcb.xgrid.visible=False
style_axis(pcb.xaxis[0], size=15, color=DARK, tick="#222222", tl=0)
pcb.xaxis.major_tick_in=5
pcb.xaxis.ticker=FixedTicker(ticks=[.4,.6,.8,1.0])
pcb.xaxis.major_label_overrides={.4:"0.4",.6:"0.6",.8:"0.8",1.0:"1.0"}
pcb.xaxis.major_label_standoff=3

# ---------- G ----------
def diam(lf):
    return 4 + (lf - 3) * 3

def gene_panel(box_, xlim, ylim, majors, lnames, lvals, lf_l, rnames, rvals, lf_r, rcolor, dash_y):
    L,T,R,B = box_
    p = make_fig(L,T,R,B, Range1d(*xlim), Range1d(*ylim), ml=34, x_axis_location=None)
    t = FixedTicker(ticks=majors, minor_ticks=[.65,.75,.85])
    p.yaxis.ticker = FixedTicker(ticks=majors)
    style_axis(p.yaxis[0], size=15, color=GRAY, tick=None, tl=0)
    p.yaxis.major_label_standoff = 8
    p.yaxis.major_label_overrides = {v: f"{v:.1f}" for v in majors}
    p.xgrid.visible = False
    p.ygrid.ticker = t
    p.ygrid.grid_line_color = "#ebebeb"; p.ygrid.grid_line_width = 1.6
    p.ygrid.minor_grid_line_color = "#f1f1f1"; p.ygrid.minor_grid_line_width = 1.3
    p.segment(x0=[29.5], x1=[29.5], y0=[dash_y[0]], y1=[dash_y[1]], line_color="#aaaaaa", line_width=2, line_dash="7 8")
    names = lnames + rnames
    vals = lvals + rvals
    lfs = lf_l + lf_r
    xs = list(range(len(names)))
    cols = ["#1f4ba5"]*len(lnames) + [rcolor]*len(rnames)
    p.scatter(x=xs, y=vals, marker="circle", size=[diam(v) for v in lfs], fill_color=cols, line_color=None)
    style = ["bold" if n in TF_GENES else ("italic" if n in ITALIC_GENES else "normal") for n in names]
    tcol = ["#3a9a6e" if n.startswith("*") else "#1a1a1a" for n in names]
    src = ColumnDataSource(dict(x=xs, y=vals, t=names, fs=style, col=tcol))
    p.text(x="x", y="y", text="t", source=src, angle=math.pi/2, y_offset=12.5, text_align="right", text_baseline="middle",
           text_font=value(FONT), text_font_size="18px", text_font_style="fs", text_color="col")
    return p

gene_panel((329,1090,1333,1395), (-.59,59.63), (.5231,.9119), [.6,.7,.8,.9], G1_L,G1_LV,G1_LF,G1_R,G1_RV,G1_RF, "#4f97d9", (.9,.55))
gene_panel((353,1455,1324,1785), (-.574,60.64), (.5796,.9107), [.7,.8,.9], G2_L,G2_LV,G2_LF,G2_R,G2_RV,G2_RF, "#b0252c", (.9107,.692))

# ---------- text / annotation layer, coordinates are page pixels ----------
layer = figure(width=1394, height=1800, x_range=Range1d(0,1394), y_range=Range1d(1800,0), toolbar_location=None, output_backend="svg",
               min_border=0, background_fill_color=None, border_fill_color=None, outline_line_color=None,
               x_axis_location=None, y_axis_location=None)
layer.frame_align = False
layer.styles = {"position":"absolute","left":"0px","top":"0px"}
layer.xgrid.visible=False; layer.ygrid.visible=False
children.append(layer)

def T(x, y, s, size=16, color=DARK, align="left", base="middle", style="normal", angle=0):
    layer.text(x=[x], y=[y], text=[s], text_font=value(FONT), text_font_size=f"{size}px", text_color=color,
               text_align=align, text_baseline=base, text_font_style=style, angle=angle)

def box(x0,y0,x1,y1,fill=None,line="#444444",lw=1.4):
    layer.quad(left=[x0],right=[x1],top=[y0],bottom=[y1],fill_color=fill,line_color=line,line_width=lw)

UP = math.pi/2
for s,x,y in [("A",12,24),("B",12,262),("C",865,78),("D",7,540),("E",517,540),("F",926,539),("G",263,1061)]:
    T(x,y,s,size=24,color="#111111",base="alphabetic",style="bold")

# A text
for s,x in [("TD0",155),("TD30",338),("TD60",514)]:
    T(x,24,s,size=21,align="center")
T(237,54,"ρ = -0.72",16,"#333333",align="right")
T(237,73,"p = 0.00019",16,"#333333",align="right")
T(262,161,"ρ=−0.75,",16,"#333333"); T(331,161,"p",16,"#333333",style="italic"); T(341,161,"=4e−05",16,"#333333")
T(436,163,"ρ=−0.51,",16,"#333333"); T(513,163,"p",16,"#333333",style="italic"); T(523,163,"=0.012",16,"#333333")
T(29,108,"MCP",19,"#111111",align="center",style="bold",angle=UP)
T(46,108,"norm. cell prop.",16,"#333333",align="center",angle=UP)
box(24,138,35,167,fill=COLORS["MCP"],line=None)
box(201,205,230,217,fill=COLORS["IN"],line=None)
T(239,211,"IN",21,"#111111",style="bold")
T(264,212,"normalized cell proportion",16,"#333333")
box(651,83,727,166,fill="white")
T(659,97,"ASD",17)
layer.scatter(x=[670],y=[123],marker="circle",size=8,fill_color="black",line_color=None)
layer.scatter(x=[670],y=[147],marker="triangle",size=9,fill_color="black",line_color=None)
T(684,123,"Ctrl",17); T(684,147,"ASD",17)

# B text
for s,x in [("TD0",190),("TD30",453),("TD60",705)]:
    T(x,262,s,size=20,align="center")
T(195,394,"ρ=0.2,",15.5,"#333333"); T(253,394,"p",15.5,"#333333",style="italic"); T(261,394,"=0.36",15.5,"#333333")
T(345,399,"ρ=−0.71,",15.5,"#333333"); T(428,399,"p",15.5,"#333333",style="italic"); T(438,399,"=0.00017",15.5,"#333333")
T(589,403,"ρ=−0.66,",15.5,"#333333"); T(676,403,"p",15.5,"#333333",style="italic"); T(686,403,"=0.00067",15.5,"#333333")
T(33,344,"EN-PP",20,"#111111",align="center",style="bold",angle=UP)
T(49,345,"norm.cell prop.",16,"#333333",align="center",angle=UP)
box(23.5,382,37,411,fill=COLORS["EN-PP"],line=None)
box(288,443,319,456,fill="#3a4ea0",line=None)
T(326,450,"EN- DCP",20.4,"#111111",style="bold")
T(416,451,"normalized cell proportion",16,"#333333")

# C text
for s,x in [("TD0",988),("TD30",1140),("TD60",1301.5)]:
    T(x,73,s,size=20,align="center")
T(987,107,"Wilcoxon",16,align="center"); T(988,127,"p = 4e−04",16,align="center")
T(1140,107,"p = 0.032",16,align="center"); T(1297,107,"p = 0.34",16,align="center")
T(892,260,"pairwise compositional distance",16,"#333333",align="center",angle=UP)
for s,x in [("family",962.6),("family",1118),("family",1267.6)]:
    T(x,418,s,16,align="center"); T(x,438,"pairs",16,align="center")
for x in [1031,1181.7,1336.5]:
    T(x,418,"unrelated",16,align="center")

# D text
for i,cx in enumerate([35,116,195,274,352.7,432]):
    T(cx,808,D_GROUP1[i],16,"#333333",align="center")
    T(cx,827,D_GROUP2[i],16,"#333333",align="center")
for x0,x1 in [(0,76.7),(79,155),(158,234),(237,313),(315,391),(394,470)]:
    layer.segment(x0=[x0],x1=[x1],y0=[841],y1=[841],line_color="black",line_width=2)
for i,x in enumerate(d_x):
    px = 21.2 + 34.9*x
    layer.segment(x0=[px],x1=[px],y0=[841],y1=[845],line_color="#333333",line_width=1.2)
    T(px,854,"core" if i%2==0 else "replicate",16,"#666666",align="right",angle=UP)
T(501,667,"Fraction",16,"#333333",align="center",angle=-UP)

# E text
T(537,693,"Correlation of expression (Pearson's rho)",15.5,"#333333",align="center",angle=UP)
for i,g in enumerate(E_GROUP):
    cx = 610+53.8*i
    T(cx,866,g[0],16,"#666666",align="center"); T(cx,886,g[1],16,"#666666",align="center"); T(cx,906,g[2],16,"#666666",align="center")

# F text
T(1106,536,"10789-01.TD30 core",16,"#333333",align="center")
T(1298,536,"10789-01.TD30 replicate",16,"#333333",align="center")
T(1060,938,"Pearson's rho",16)

# cell type legend
for i,c in enumerate(LEGEND_CT):
    yc = 971.7 + 33.7*i
    box(70,yc-15,100,yc+15,fill=LEGEND_COLORS[c],line="#555555",lw=1)
    T(108,yc,c,23,DARK)

# G text
T(600,1072,"top",18); T(631,1072,"RG genes",18,style="bold"); T(721.5,1072,"correlated with: EN-PP / EN-DCP balance",18)
T(618.5,1443,"top",18); T(650,1443,"RG genes",18,style="bold"); T(740,1443,"correlated with: IN / EN-DCP balance",18)
T(276,1197,"absolute correlation",18.5,"#333333",align="center",angle=UP)
T(296,1566,"absolute correlation",19,"#333333",align="center",angle=UP)

def scale(bx0,by0,bx1,by1,ax,ay,b0,b1,by):
    layer.line(x=[bx0,bx1],y=[by0,by1],line_color="black",line_width=2)
    layer.line(x=[ax,b0,b1,ax],y=[ay,by,by,ay],line_color="black",line_width=2)
scale(604,1168,746.7,1129.3, 674.8,1153.3,655.7,694.7,1186)
scale(909.8,1128,1051.9,1169, 980.3,1152.7,961.4,1000,1186)
scale(623.1,1538,765.9,1499.3, 693.9,1522.7,674.8,714.2,1556.7)
scale(929.5,1498.3,1071.2,1539.3, 999.6,1523.3,980.3,1019.7,1556.7)
T(558.5,1151,"EN-DCP",21,"#111111",style="bold"); T(708,1116,"EN-PP",18)
T(901.5,1116,"EN-DCP",18); T(1028.4,1151,"EN-PP",21,"#111111",style="bold")
T(577.6,1521,"EN-DCP",21,"#111111",style="bold"); T(741.4,1486,"IN",18)
T(921,1486,"EN-DCP",18); T(1066,1521,"IN",21,"#111111",style="bold")

# FDR legend
box(352,1705,449,1794,fill="white",line="#444444",lw=1.3)
T(356,1725,"−log",15.5); T(386.5,1729,"10",9.5); T(398,1725,"(FDR)",15.5)
for lf,yy,dd in zip(FDR_LEGEND,[1748,1762,1777],[8.5,12,15]):
    layer.scatter(x=[379],y=[yy],marker="circle",size=dd,fill_color="black",line_color=None)
    T(396,yy,str(lf),15.5)

# bottom caption
T(789.6,1787,"RG genes",17.5); T(906,1787,"(legend for gene name:",17.5)
T(1095.5,1787,"TF",17.5,style="bold"); T(1122,1787,",",17.5)
T(1137,1787,"Signaling pathway",17.5,style="italic"); T(1284,1787,",",17.5)
T(1296,1787,"*SFARI*",17.5,"#3a9a6e"); T(1366,1787,")",17.5)

root = Column(children=children, width=1394, height=1800, styles={"position":"relative"})
open("out.html","w").write(file_html(root, INLINE))
